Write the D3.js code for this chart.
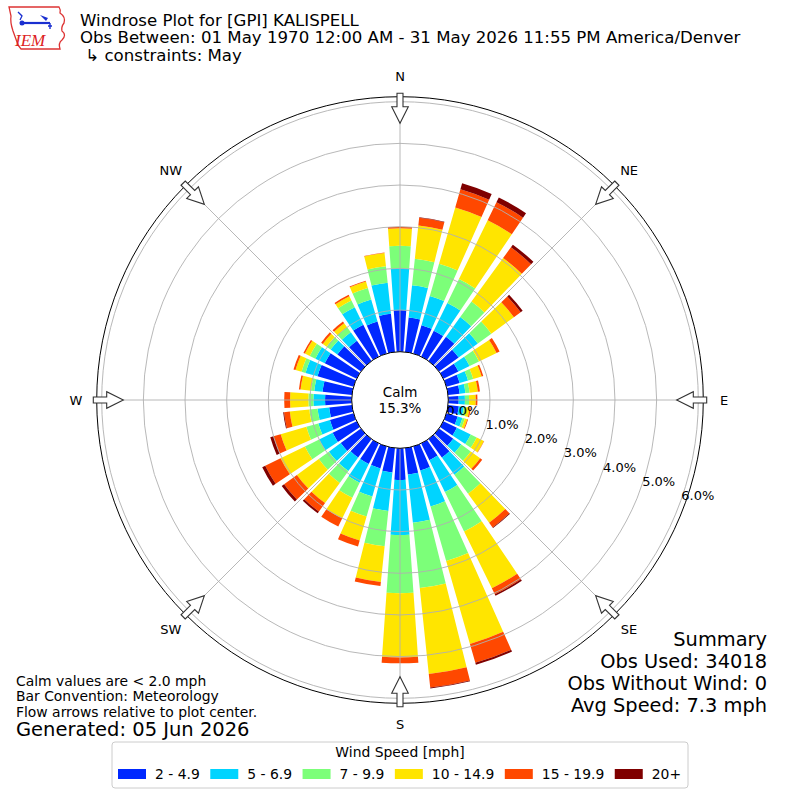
<!DOCTYPE html>
<html>
<head>
<meta charset="utf-8">
<script src="https://cdn.jsdelivr.net/npm/d3@7"></script>
<style>
  body { margin: 0; background: #fff; }
  svg { font-family: "DejaVu Sans", sans-serif; }
</style>
</head>
<body>
<svg id="chart" width="800" height="800"></svg>
<script>
// wind direction bins (degrees, meteorological)
var directions = [0, 10, 20, 30, 40, 50, 60, 70, 80, 90, 100, 110, 120, 130, 140, 150, 160, 170,
                  180, 190, 200, 210, 220, 230, 240, 250, 260, 270, 280, 290, 300, 310, 320, 330, 340, 350];

var speedLabels = ["2 - 4.9", "5 - 6.9", "7 - 9.9", "10 - 14.9", "15 - 19.9", "20+"];
var speedColors = ["#0028ff", "#00d4ff", "#7cff79", "#ffe500", "#ff4800", "#7f0000"];

// percent of observations per direction, one array per speed bin
var spd2to5 = [1.00, .83, .71, .69, .72, .58, .40, .33, .28, .25, .26, .28, .36, .42, .55, .45, .60, .64,
               .76, .59, .55, .55, .55, .60, .64, .59, .55, .64, .71, .90, .85, .70, .60, .85, .80, .92];
var spd5to7 = [1.00, .78, .73, .74, .58, .57, .30, .21, .14, .15, .12, .12, .37, .24, .51, .85, .90, 1.16,
               1.32, .93, .70, .50, .40, .35, .36, .29, .28, .28, .20, .30, .25, .20, .25, .47, .55, .75];
var spd7to10 = [.54, .64, .80, .64, .46, .40, .25, .13, .10, .10, .06, .06, .16, .28, .56, 1.05, 1.36, 1.58,
                1.40, .85, .50, .40, .35, .30, .38, .30, .20, .12, .08, .10, .15, .12, .15, .18, .29, .40];
var spd10to15 = [.42, .80, 1.41, 1.57, 1.29, .67, .47, .21, .20, .16, .08, .06, .19, .28, .86, 1.52, 2.07, 2.07,
                 1.54, .86, .60, .55, .60, .65, .65, .64, .47, .44, .25, .15, .13, .11, .12, .11, .16, .32];
var spd15to20 = [.04, .19, .45, .48, .32, .20, .08, .04, .05, .04, .03, .02, .01, .06, .14, .16, .47, .33,
                 .14, .10, .15, .22, .25, .38, .41, .18, .14, .14, .04, .05, .04, .05, .05, .04, .02, .01];
var spd20up = [0, .01, .15, .13, .08, .06, 0, 0, 0, 0, 0, 0, 0, 0, .02, .04, .05, .02,
               0, 0, 0, 0, .05, .07, .08, .08, .02, 0, 0, 0, 0, 0, 0, 0, 0, 0];

var radialTicks = [0, 1, 2, 3, 4, 5, 6];
var compassLabels = ["N", "NE", "E", "SE", "S", "SW", "W", "NW"];
var compassAngles = [0, 45, 90, 135, 180, 225, 270, 315];

var calmPct = "15.3%";
var titleLines = ["Windrose Plot for [GPI] KALISPELL",
                  "Obs Between: 01 May 1970 12:00 AM - 31 May 2026 11:55 PM America/Denver",
                  " \u21b3 constraints: May"];
var notes = ["Calm values are < 2.0 mph", "Bar Convention: Meteorology", "Flow arrows relative to plot center."];
var summary = ["Summary", "Obs Used: 34018", "Obs Without Wind: 0", "Avg Speed: 7.3 mph"];

var svg = d3.select("#chart");
var cx = 400, cy = 400;
var rad = Math.PI / 180;

var r = d3.scaleLinear().domain([0, 6]).range([48.3, 298.3]);
var rMax = r(6.12);

var keys = ["s0", "s1", "s2", "s3", "s4", "s5"];
var bins = [spd2to5, spd5to7, spd7to10, spd10to15, spd15to20, spd20up];
var rows = directions.map(function(d, i) {
  var row = { dir: d };
  keys.forEach(function(k, j) { row[k] = bins[j][i]; });
  return row;
});
var series = d3.stack().keys(keys)(rows);

var g = svg.append("g").attr("transform", "translate(" + cx + "," + cy + ")");

// bars
var arc = d3.arc();
series.forEach(function(s, j) {
  g.append("g")
    .selectAll("path")
    .data(s)
    .enter()
    .append("path")
    .attr("fill", speedColors[j])
    .attr("d", function(d) {
      if (d[1] - d[0] <= 0) return null;
      return arc({
        innerRadius: r(d[0]),
        outerRadius: r(d[1]),
        startAngle: (d.data.dir - 4) * rad,
        endAngle: (d.data.dir + 4) * rad
      });
    });
});

// grid
g.append("g").selectAll("circle")
  .data(radialTicks.slice(1))
  .enter().append("circle")
  .attr("r", function(d) { return r(d); })
  .attr("fill", "none")
  .attr("stroke", "#b0b0b0")
  .attr("stroke-width", 0.9);

g.append("g").selectAll("line")
  .data(compassAngles)
  .enter().append("line")
  .attr("x1", function(a) { return r(0) * Math.sin(a * rad); })
  .attr("y1", function(a) { return -r(0) * Math.cos(a * rad); })
  .attr("x2", function(a) { return rMax * Math.sin(a * rad); })
  .attr("y2", function(a) { return -rMax * Math.cos(a * rad); })
  .attr("stroke", "#b0b0b0")
  .attr("stroke-width", 0.9);

// outer frame and calm hole
g.append("circle").attr("r", rMax).attr("fill", "none").attr("stroke", "#000").attr("stroke-width", 1);
g.append("circle").attr("r", r(0)).attr("fill", "#fff").attr("stroke", "#000").attr("stroke-width", 1);

g.append("text").attr("x", 0).attr("y", -3).attr("text-anchor", "middle")
  .attr("font-size", 13.5).text("Calm");
g.append("text").attr("x", 0).attr("y", 13).attr("text-anchor", "middle")
  .attr("font-size", 13.5).text(calmPct);

// radial tick labels
var labAng = 20 * rad;
g.append("g").selectAll("text")
  .data(radialTicks)
  .enter().append("text")
  .attr("x", function(d) { return r(d) * Math.cos(labAng) + 1; })
  .attr("y", function(d) { return r(d) * Math.sin(labAng) - 2; })
  .attr("font-size", 13)
  .text(function(d) { return d3.format(".1f")(d) + "%"; });

// flow arrows
var arrowPts = [[-3, -306.7], [3, -306.7], [3, -293.3], [8.3, -293.3], [0, -276.7], [-8.3, -293.3], [-3, -293.3]];
g.append("g").selectAll("polygon")
  .data(compassAngles)
  .enter().append("polygon")
  .attr("points", arrowPts.map(function(p) { return p.join(","); }).join(" "))
  .attr("transform", function(a) { return "rotate(" + a + ")"; })
  .attr("fill", "#fff")
  .attr("stroke", "#333")
  .attr("stroke-width", 1.1);

// compass labels
g.append("g").selectAll("text")
  .data(compassLabels)
  .enter().append("text")
  .attr("x", function(d, i) { return 324 * Math.sin(compassAngles[i] * rad); })
  .attr("y", function(d, i) { return -324 * Math.cos(compassAngles[i] * rad); })
  .attr("text-anchor", "middle")
  .attr("dominant-baseline", "central")
  .attr("font-size", 13)
  .text(function(d) { return d; });

// title
svg.append("g").selectAll("text")
  .data(titleLines)
  .enter().append("text")
  .attr("x", 80)
  .attr("y", function(d, i) { return 25.5 + i * 17.9; })
  .attr("font-size", 16.6)
  .attr("xml:space", "preserve")
  .style("white-space", "pre")
  .text(function(d) { return d; });

// logo
var logo = svg.append("g");
logo.append("path")
  .attr("d", "M9,7 L59,7 Q61,10 60,13 Q66,17 64,23 Q61,27 62,31 Q67,35 62,40 Q58,43 60,49 L21,49 Q18,46 17,42 L13,31 Q10,22 11,16 Z")
  .attr("fill", "#fff").attr("stroke", "#d33").attr("stroke-width", 1.3);
logo.append("line").attr("x1", 22).attr("y1", 23).attr("x2", 50).attr("y2", 23)
  .attr("stroke", "#1a2fd0").attr("stroke-width", 2.2);
logo.append("path").attr("d", "M40,15 L48,18 L46,21 Z").attr("fill", "#1a2fd0");
logo.append("path").attr("d", "M18,12 L22,16 L20,20").attr("fill", "none").attr("stroke", "#1a2fd0").attr("stroke-width", 1.3);
logo.append("circle").attr("cx", 22).attr("cy", 23).attr("r", 2.5).attr("fill", "#1a2fd0");
logo.append("path").attr("d", "M50,23 L50,29 M48,26 L52,26").attr("stroke", "#1a2fd0").attr("stroke-width", 1.4);
logo.append("text").attr("x", 15).attr("y", 46)
  .attr("font-family", "Liberation Serif, serif").attr("font-style", "italic")
  .attr("font-size", 17).attr("fill", "#d22").text("IEM");

// notes at lower left
svg.append("g").selectAll("text")
  .data(notes)
  .enter().append("text")
  .attr("x", 16)
  .attr("y", function(d, i) { return 685.5 + i * 15.5; })
  .attr("font-size", 13.9)
  .text(function(d) { return d; });
svg.append("text").attr("x", 16).attr("y", 736).attr("font-size", 19.5).text("Generated: 05 Jun 2026");

// summary at lower right
svg.append("g").selectAll("text")
  .data(summary)
  .enter().append("text")
  .attr("x", 767)
  .attr("y", function(d, i) { return 646 + i * 22; })
  .attr("text-anchor", "end")
  .attr("font-size", 19.4)
  .text(function(d) { return d; });

// legend
var leg = svg.append("g");
leg.append("rect").attr("x", 112).attr("y", 742).attr("width", 576).attr("height", 46)
  .attr("rx", 3).attr("fill", "#fff").attr("stroke", "#cccccc").attr("stroke-width", 1);
leg.append("text").attr("x", 400).attr("y", 757).attr("text-anchor", "middle")
  .attr("font-size", 13.9).text("Wind Speed [mph]");
var lx = 118;
speedLabels.forEach(function(lab, i) {
  leg.append("rect").attr("x", lx).attr("y", 769).attr("width", 28).attr("height", 10)
    .attr("fill", speedColors[i]);
  var t = leg.append("text").attr("x", lx + 37).attr("y", 779).attr("font-size", 13.9).text(lab);
  lx = lx + 37 + t.node().getComputedTextLength() + 10.5;
});
</script>
</body>
</html>
